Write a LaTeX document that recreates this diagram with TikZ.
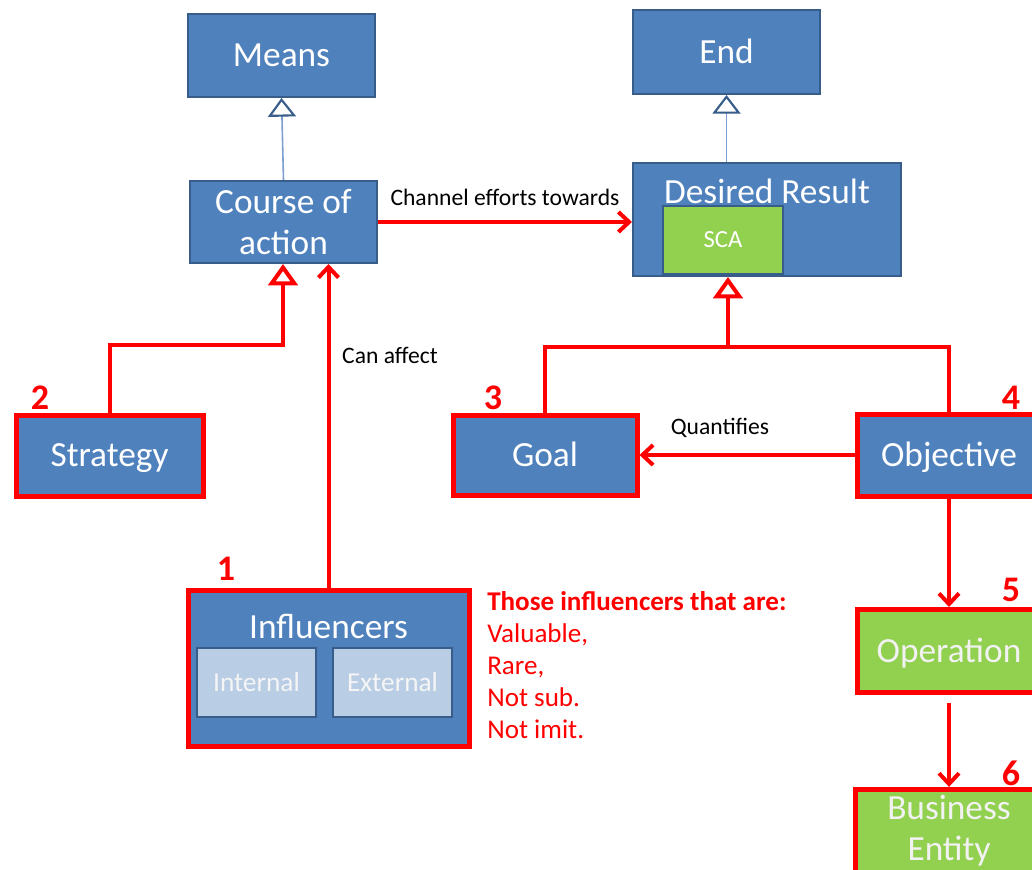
\documentclass[tikz,border=0pt]{standalone}
\usepackage{fontspec}
\setmainfont{Carlito}
\usetikzlibrary{arrows.meta}
\definecolor{boxblue}{HTML}{4F81BD}
\definecolor{edgeblue}{HTML}{385D8A}
\definecolor{lineblue}{HTML}{7C9ED0}
\definecolor{paleblue}{HTML}{B9CDE5}
\definecolor{boxgreen}{HTML}{92D050}
\definecolor{hotred}{HTML}{FF0000}
\begin{document}
\begin{tikzpicture}[x=0.75pt,y=-0.75pt,
  box/.style={draw=edgeblue, line width=1.5pt, fill=boxblue, text=white,
    font=\fontsize{26.5}{30.5}\selectfont, align=center, inner sep=0pt},
  oneline/.style={text height=22pt, text depth=5pt},
  redbox/.style={box, draw=hotred, line width=3.75pt},
  greenbox/.style={redbox, fill=boxgreen, text=white!95!black},
  inner/.style={draw=edgeblue, line width=1.5pt, fill=paleblue, text=white!96!black,
    font=\fontsize{20.5}{24}\selectfont, inner sep=0pt,
    minimum width=89.25pt, minimum height=51.75pt},
  num/.style={text=hotred, font=\fontsize{27}{30}\selectfont\bfseries, inner sep=0pt},
  lbl/.style={text=black, font=\fontsize{17.7}{21}\selectfont, inner sep=0pt},
  gen/.style={lineblue, line width=1.2pt,
    -{Triangle[open, length=14pt, width=21pt, color=edgeblue, line width=1.6pt]}},
  redgen/.style={hotred, line width=3pt,
    -{Triangle[open, length=16pt, width=22pt, line width=3pt]}},
  redarr/.style={hotred, line width=3pt,
    -{Straight Barb[length=8pt, width=15pt, line width=3pt]}}
]
\clip (0,0) rectangle (1032,870);
\fill[white] (0,0) rectangle (1032,870);

% upper level: means and ends
\node[box, oneline, minimum width=140.25pt, minimum height=62.25pt] (means) at (281.5,55.5) {Means};
\node[box, minimum width=140.25pt, minimum height=61.5pt] (course) at (283.5,222) {Course of\\action};
\node[box, oneline, minimum width=140.25pt, minimum height=63pt] (end) at (726.5,52) {End};
\node[box, minimum width=201pt, minimum height=84.75pt] (desired) at (767,219.5) {};
\node[box, draw=none, fill=none] (desiredtext) at (767,191) {Desired Result};
\node[box, fill=boxgreen, font=\fontsize{18.5}{21}\selectfont, minimum width=90pt, minimum height=51pt] (sca) at (723,240) {SCA};

% lower level
\node[redbox, oneline, minimum width=140.25pt, minimum height=60.75pt] (strategy) at (109.5,455.5) {Strategy};
\node[redbox, oneline, minimum width=138pt, minimum height=60pt] (goal) at (545,455) {Goal};
\node[redbox, oneline, minimum width=138pt, minimum height=61.5pt] (objective) at (949,455) {Objective};
\node[greenbox, oneline, minimum width=138pt, minimum height=62.25pt] (operation) at (949,651) {Operation};
\node[greenbox, minimum width=141pt, minimum height=70pt] (business) at (949,836) {};
\node[box, draw=none, fill=none, text=white!95!black] (businesstext) at (949,831) {Business\\Entity};

% influencers with their two parts
\node[redbox, minimum width=210.75pt, minimum height=117pt] (influencers) at (328.5,668) {};
\node[box, draw=none, fill=none] (influencerstext) at (328.5,626) {Influencers};
\node[inner] (internal) at (256.5,682.5) {Internal};
\node[inner] (external) at (392.5,682.5) {External};

% numbering
\node[num] (n1) at (226,569) {1};
\node[num] (n2) at (40,398) {2};
\node[num] (n3) at (493,398) {3};
\node[num] (n4) at (1011,398) {4};
\node[num] (n5) at (1011,590) {5};
\node[num] (n6) at (1011,773) {6};

% criteria note
\node[anchor=north west, text=hotred, align=left, inner sep=0pt,
      font=\fontsize{20.3}{24}\selectfont] (criteria) at (487,591)
  {\textbf{Those influencers that are:}\\Valuable,\\Rare,\\Not sub.\\Not imit.};

% generalisations
\draw[gen] (course.north) -- (means.south);
\draw[gen] (desired.north -| end.south) -- (end.south);
\coordinate (sj) at (283,345);
\draw[redgen] (strategy.north) |- (sj) -- (sj |- course.south);
\coordinate (dj) at (728,347);
\draw[hotred, line width=3pt] (goal.north) |- (dj);
\draw[hotred, line width=3pt] (objective.north) |- (dj);
\draw[redgen] (dj) -- (dj |- desired.south);

% associations
\draw[redarr] (course.east) -- (course.east -| desired.west)
  node[lbl, midway, above=11pt] (channel) {Channel efforts towards};
\draw[redarr] (influencers.north) -- (influencers.north |- course.south);
\node[lbl] (canaffect) at (390,355) {Can affect};
\draw[redarr] (objective.west) -- (goal.east);
\node[lbl] (quant) at (720,428) {Quantifies};
\draw[redarr] (objective.south) -- (operation.north);
\draw[redarr] ([yshift=-6pt]operation.south) -- (business.north);
\end{tikzpicture}
\end{document}
